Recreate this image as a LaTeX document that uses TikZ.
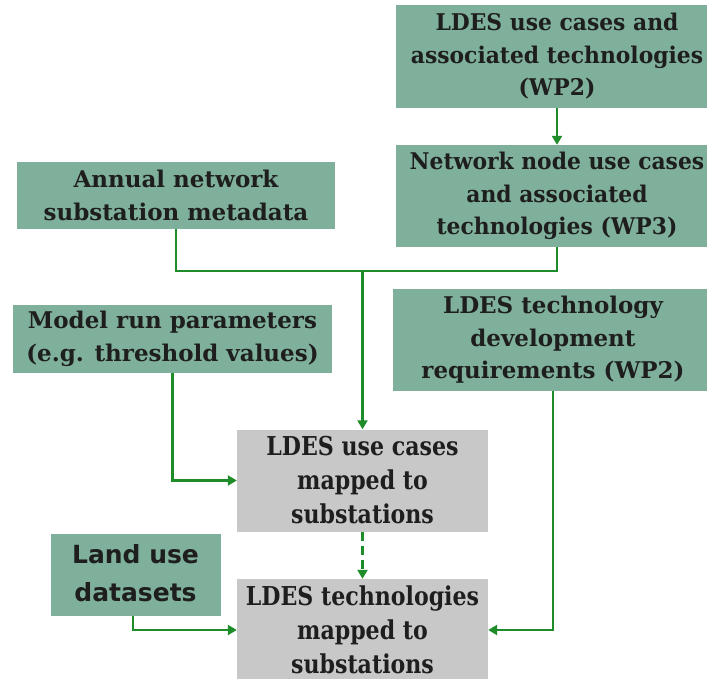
\documentclass[tikz,border=0pt]{standalone}
\usepackage{fontspec}
\setmainfont{DejaVu Serif}
\newfontfamily\inputfont{DejaVu Serif}
\newfontfamily\narrowinputfont{DejaVu Serif}[FakeStretch=0.95]
\newfontfamily\resultfont{DejaVu Serif}[FakeStretch=0.85]
\newfontfamily\landfont{DejaVu Sans}
\usetikzlibrary{arrows.meta}

\definecolor{boxgreen}{RGB}{127,176,155}
\definecolor{boxgrey}{RGB}{200,200,200}
\definecolor{flow}{RGB}{30,140,40}
\definecolor{ink}{RGB}{30,30,30}

\begin{document}
\begin{tikzpicture}[x=1pt,y=-1pt,
  inputbox/.style={fill=boxgreen, draw=none, text=ink, align=center, inner sep=0pt,
    font=\inputfont\fontsize{23}{32.5}\selectfont\bfseries},
  wideinput/.style={inputbox, minimum width=322pt,
    font=\narrowinputfont\fontsize{23}{32.5}\selectfont\bfseries},
  resultbox/.style={fill=boxgrey, draw=none, text=ink, align=center, inner sep=0pt,
    minimum width=251pt, minimum height=102pt,
    font=\resultfont\fontsize{26}{34}\selectfont\bfseries},
  landbox/.style={inputbox, font=\landfont\fontsize{25}{38.5}\selectfont\bfseries},
  link/.style={draw=flow, line width=2.5pt},
  arr/.style={link, -{Triangle[length=9pt,width=10pt]}}
]
\useasboundingbox (0,0) rectangle (707,679);

% source data (green)
\node[wideinput, minimum height=103pt] (wp2) at (557,56.5)
  {LDES use cases and\\associated technologies\\(WP2)};
\node[wideinput, minimum height=102pt] (wp3) at (557,196)
  {Network node use cases\\and associated\\technologies (WP3)};
\node[inputbox, minimum width=318pt, minimum height=67pt] (meta) at (176,195.5)
  {Annual network\\substation metadata};
\node[inputbox, minimum width=319pt, minimum height=68pt] (params) at (172.5,339)
  {Model run parameters\\(e.g. threshold values)};
\node[inputbox, minimum width=320pt, minimum height=102pt] (techreq) at (553,340)
  {LDES technology\\development\\requirements (WP2)};
\node[landbox, minimum width=170pt, minimum height=82pt] (land) at (135.5,574.5)
  {\raisebox{3pt}{Land use}\\\raisebox{3pt}{datasets}};

% results (grey)
\node[resultbox] (usecases) at (362.5,480.5)
  {LDES use cases\\mapped to\\substations};
\node[resultbox] (techs) at (362.5,630)
  {LDES technologies\\mapped to\\substations};

% connectors
\coordinate (join) at (362.5,271);
\draw[arr] (wp2.south) -- (wp3.north);
\draw[link] (meta.south) |- (join);
\draw[link] (wp3.south) |- (join);
\draw[arr] (join) -- (usecases.north);
\draw[arr] (params.south) |- (usecases.west);
\draw[arr, dashed, dash pattern=on 9pt off 5pt] (usecases.south) -- (techs.north);
\draw[arr] ([xshift=-2.5pt]land.south) |- (techs.west);
\draw[arr] (techreq.south) |- (techs.east);
\end{tikzpicture}
\end{document}
